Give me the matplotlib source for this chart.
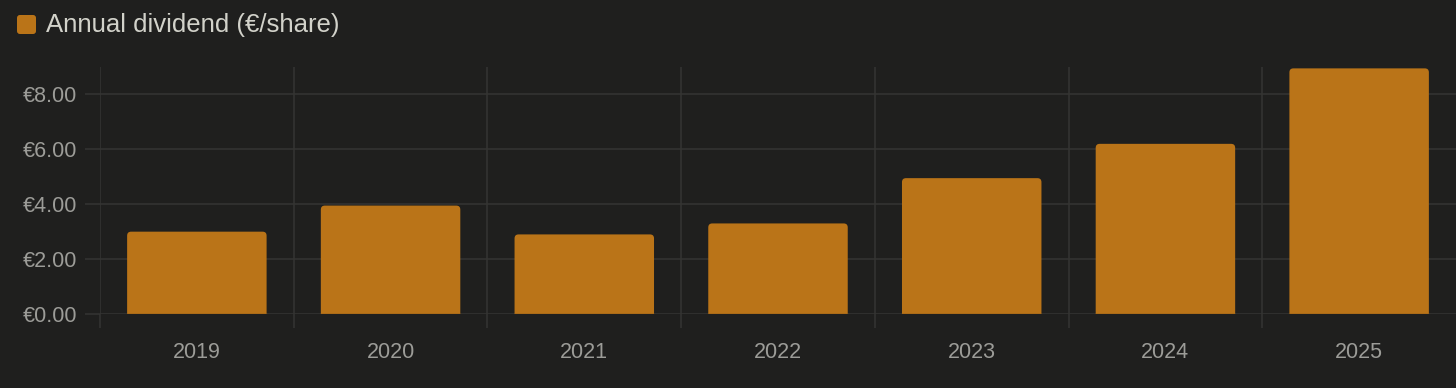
import matplotlib.pyplot as plt
from matplotlib.patches import FancyBboxPatch
import numpy as np

# Data
years = ['2019', '2020', '2021', '2022', '2023', '2024', '2025']
dividends = [3.00, 3.95, 2.90, 3.30, 4.95, 6.20, 8.95]
y_ticks = [0, 2, 4, 6, 8]
series_label = 'Annual dividend (€/share)'

bg = '#1f1f1e'
bar_color = '#ba7418'
grid_color = '#353533'
tick_text = '#9c9c98'
legend_text = '#d2d2ca'

plt.rcParams['font.family'] = ['Liberation Sans', 'DejaVu Sans']

W, H = 1456, 388
fig = plt.figure(figsize=(W / 100, H / 100), dpi=100, facecolor=bg)
ax = fig.add_axes([100 / W, 1 - 314 / H, 1 - 100 / W, (314 - 67) / H])
ax.set_facecolor(bg)

x = np.arange(len(years))
bar_w = 0.72
bars = ax.bar(x, dividends, width=bar_w, color='none', edgecolor='none')

ax.set_xlim(-0.5, len(years) - 0.5)
ax.set_ylim(0, 9)

# rounded top corners; box starts below zero so the axes clip the bottom corners
px_x = 1 / 194.0
px_y = 1 / 27.4
r = 4 * px_x
for b in bars:
    x0, w, h = b.get_x(), b.get_width(), b.get_height()
    ax.add_patch(FancyBboxPatch((x0, -0.5), w, h + 0.5,
                                boxstyle=f'round,pad=0,rounding_size={r}',
                                mutation_aspect=px_y / px_x,
                                facecolor=bar_color, edgecolor='none', zorder=3))
    ax.plot([x0, x0 + w], [0, 0], color='#6e4a1c', lw=1.0, zorder=3.2)

ax.set_yticks(y_ticks)
ax.set_yticklabels([f'€{v:.2f}' for v in y_ticks])
ax.set_xticks(x)
ax.set_xticklabels(years)
ax.set_xticks(np.arange(-0.5, len(years) - 1, 1.0), minor=True)

ax.grid(axis='y', which='major', color=grid_color, lw=1.1, zorder=0)
ax.grid(axis='x', which='minor', color=grid_color, lw=1.1, zorder=0)

ax.tick_params(axis='y', which='major', length=11, width=1.1, color=grid_color,
               labelcolor=tick_text, labelsize=15.5, pad=5.5)
ax.tick_params(axis='x', which='major', length=0, labelcolor=tick_text,
               labelsize=15.5, pad=20)
ax.tick_params(axis='x', which='minor', length=10, width=1.1, color=grid_color)

for s in ax.spines.values():
    s.set_visible(False)

# legend drawn by hand at the top left
fig.patches.append(FancyBboxPatch((17 / W, 1 - 34 / H), 19 / W, 19 / H,
                                  boxstyle='round,pad=0,rounding_size=0.002',
                                  mutation_aspect=W / H,
                                  transform=fig.transFigure,
                                  facecolor=bar_color, edgecolor='none'))
fig.text(46 / W, 1 - 25 / H, series_label, color=legend_text, fontsize=18.5,
         va='center', ha='left')

fig.savefig('out.png', dpi=100, facecolor=bg)
